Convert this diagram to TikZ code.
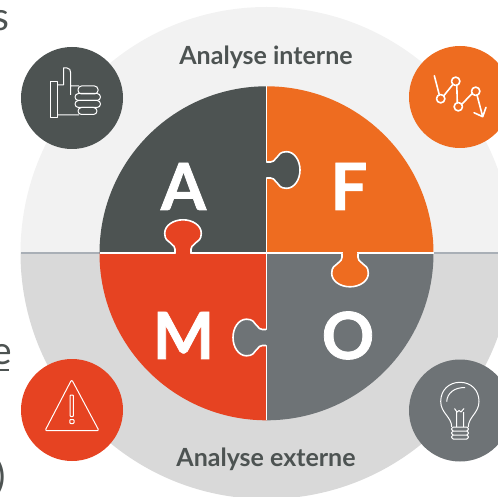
\documentclass[tikz,border=0pt]{standalone}
\usepackage{fontspec}
\setmainfont{Lato}
\definecolor{cA}{HTML}{4D5352}
\definecolor{cF}{HTML}{EE6C20}
\definecolor{cM}{HTML}{E64322}
\definecolor{cO}{HTML}{6E7376}
\definecolor{upper}{HTML}{F2F2F2}
\definecolor{lower}{HTML}{D9D9D9}
\definecolor{sep}{HTML}{A9AFB6}
\definecolor{txt}{HTML}{4D5352}
\tikzset{
  icon/.style={draw=white,line width=1pt,line join=round,fill=none},
  iconb/.style={draw=white,line width=1.6pt,line cap=round,line join=round,fill=none},
  letter/.style={text=white,font=\fontsize{65}{66}\selectfont\bfseries\addfontfeature{FakeBold=1.2},inner sep=0pt},
  heading/.style={text=txt,font=\fontsize{25}{26}\selectfont\bfseries,inner sep=0pt},
  cut/.style={text=txt,font=\fontsize{39}{40}\selectfont,inner sep=0pt,anchor=base west},
  tabshape/.style={draw=white,line width=1.6pt},
}
\newcommand{\tabpath}{(0,-8) .. controls (13,-6.5) and (8,-18.3) .. (20,-18.3) .. controls (28,-18.3) and (33.5,-9.5) .. (33.5,0) .. controls (33.5,9.5) and (28,18.3) .. (20,18.3) .. controls (8,18.3) and (13,6.5) .. (0,8)}
\begin{document}
\begin{tikzpicture}[x=1pt,y=-1pt]
\useasboundingbox (0,0) rectangle (498,497);
\begin{scope}
\clip (0,0) rectangle (498,497);
% outer disc
\fill[upper] (20.5,253) arc[start angle=180,end angle=360,radius=246] -- cycle;
\fill[lower] (20.5,253) arc[start angle=180,end angle=0,radius=246] -- cycle;
\draw[sep,line width=2pt] (20.5,253) -- (498,253);
% cut-off text
\node[cut] (s) at (-8,31) {s};
\node[cut] (e) at (-8.5,364.5) {e};
\draw[txt,line width=2.4pt] (0,369.8) -- (9,369.8);
\node[cut] (p) at (-5,489) {)};
% puzzle quarters
\def\R{167}
\fill[cA] (266.5,253.3) -- (99.5,253.3) arc[start angle=180,end angle=270,radius=\R] -- cycle;
\fill[cF] (266.5,253.3) -- (266.5,86.3) arc[start angle=270,end angle=360,radius=\R] -- cycle;
\fill[cO] (266.5,253.3) -- (433.5,253.3) arc[start angle=0,end angle=90,radius=\R] -- cycle;
\fill[cM] (266.5,253.3) -- (266.5,420.3) arc[start angle=90,end angle=180,radius=\R] -- cycle;
\draw[white,line width=1.6pt] (99.5,253.3) -- (433.5,253.3) (266.5,86.3) -- (266.5,420.3);
% tabs
\begin{scope}[shift={(266.5,170)}]
\fill[cA,tabshape] \tabpath;
\fill[cA] (-1,-7.2) rectangle (1,7.2);
\end{scope}
\begin{scope}[shift={(183,253.3)},rotate=90]
\fill[cM,tabshape] \tabpath;
\fill[cM] (-1,-7.2) rectangle (1,7.2);
\end{scope}
\begin{scope}[shift={(350,253.3)},rotate=-90]
\fill[cF,tabshape] \tabpath;
\fill[cF] (-1,-7.2) rectangle (1,7.2);
\end{scope}
\begin{scope}[shift={(266.5,337.5)},rotate=180]
\fill[cO,tabshape] \tabpath;
\fill[cO] (-1,-7.2) rectangle (1,7.2);
\end{scope}
% letters
\node[letter] (A) at (183.5,186.5) {A};
\node[letter] (F) at (349,186.5) {F};
\node[letter] (M) at (183.5,335.5) {M};
\node[letter] (O) at (348,335.5) {O};
% headings
\node[heading] (hi) at (266,57) {Analyse interne};
\node[heading] (he) at (266,459) {Analyse externe};
% icon discs
\fill[cA] (72,98) circle[radius=51];
\fill[cF] (460,97) circle[radius=51];
\fill[cM] (72,410) circle[radius=51];
\fill[cO] (460,410.5) circle[radius=51];
% thumb
\draw[icon] (50,82) rectangle (57,118);
\draw[icon] (57,85) -- (63.5,85) -- (63.5,68) -- (67,68) .. controls (69.5,68) and (70.7,70) .. (70.7,73) -- (70.7,95) (70.7,86) -- (79,86) (57,115) -- (79,115);
\draw[icon,rounded corners=3.5pt] (78,86) rectangle (98,94);
\draw[icon,rounded corners=3.5pt] (75,93.5) rectangle (100.5,100.5);
\draw[icon,rounded corners=3.5pt] (75,100.5) rectangle (100.5,107.5);
\draw[icon,rounded corners=3.5pt] (78,107.5) rectangle (97,114.5);
% trend
\draw[iconb] (434.3,75.7) -- (439.3,94.8);
\draw[iconb] (443.6,96) -- (453,84.3) (456.8,85.2) -- (457.3,102.8) (461.5,104.5) -- (472.2,93.5) (477,95) -- (482.7,116.7) (474,112.7) -- (482.7,116.7) -- (486,107.3);
\draw[iconb] (440.7,98.7) circle[radius=4.2] (455.7,81.3) circle[radius=4.2] (458.3,106.7) circle[radius=4.2] (475.7,91.3) circle[radius=4.2];
% warning
\draw[icon,rounded corners=2pt] (71.7,379.5) -- (45,430.7) -- (99,430.7) -- cycle;
\draw[icon,rounded corners=0.8pt] (70,395) rectangle (73.4,416.5);
\draw[icon,rounded corners=0.8pt] (69.8,419.5) rectangle (74,423.5);
% bulb
\draw[icon] (451.7,427) .. controls (451.7,417) and (440.7,413) .. (440.7,401.5) .. controls (440.7,390) and (449,382.3) .. (460,382.3) .. controls (471,382.3) and (479,390) .. (479,401.5) .. controls (479,413) and (468.3,417) .. (468.3,427);
\draw[icon] (446.7,401.7) .. controls (447,393) and (455,387) .. (465,387.7);
\draw[icon] (454.5,408.5) -- (457,412) -- (459,410.5) -- (461,412) -- (464,408.5) (456.5,412) -- (456.5,427) (463.5,412) -- (463.5,427);
\draw[icon,rounded corners=1.5pt] (451.7,427) rectangle (468.3,431) (451.7,431) rectangle (468.3,435) (451.7,435) rectangle (468.3,439);
\end{scope}
\end{tikzpicture}
\end{document}
